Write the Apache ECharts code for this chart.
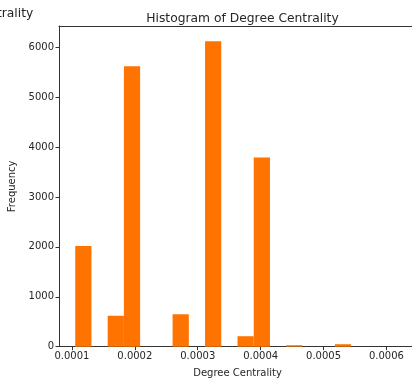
<!DOCTYPE html>
<html>
<head>
<meta charset="utf-8">
<script src="https://cdn.jsdelivr.net/npm/echarts@6/dist/echarts.min.js"></script>
<style>
  html, body { margin: 0; padding: 0; background: #fff; overflow: hidden; }
  #chart { width: 430px; height: 381px; }
</style>
</head>
<body>
<div id="chart"></div>
<script>
// histogram bins (regular width)
var binStart = 0.0001052
var binWidth = 0.0000258
var counts = [2020, 0, 620, 5620, 0, 0, 650, 0, 6120, 0, 210, 3790, 0, 30, 0, 0, 50, 0, 0, 0]
var xTicks = [0.0001, 0.0002, 0.0003, 0.0004, 0.0005, 0.0006]
var yTicks = [0, 1000, 2000, 3000, 4000, 5000, 6000]

var barColor = '#ff7400'
var textColor = '#262626'
var axisColor = '#333'
var font = 'DejaVu Sans'

var bins = counts.map(function (c, i) {
    var x0 = binStart + i * binWidth
    return [x0, x0 + binWidth, c]
})

var myChart = echarts.init(document.getElementById('chart'))
var option = {
    animation: false,
    backgroundColor: '#fff',
    title: {
        text: 'Histogram of Degree Centrality',
        left: 237.5,
        textAlign: 'center',
        top: 8,
        textStyle: { fontFamily: font, fontSize: 12.3, fontWeight: 'normal', color: textColor }
    },
    // neighbouring subplot title, cut by the crop
    graphic: [{
        type: 'text',
        left: -27,
        top: 8,
        style: { text: 'Centrality', font: '12.3px "DejaVu Sans"', fill: textColor }
    }],
    grid: {
        left: 59,
        width: 357,
        top: 26,
        height: 320.7,
        outerBoundsMode: 'none',
        containLabel: false
    },
    xAxis: [{
        type: 'value',
        min: 0.0000794,
        max: 0.000647,
        name: 'Degree Centrality',
        nameLocation: 'middle',
        nameGap: 22,
        nameTextStyle: { fontFamily: font, fontSize: 10, color: textColor },
        axisLine: { show: true, onZero: false, lineStyle: { color: axisColor } },
        axisTick: { show: true, length: 3.5, customValues: xTicks, lineStyle: { color: axisColor } },
        axisLabel: {
            customValues: xTicks,
            margin: 5,
            fontFamily: font,
            fontSize: 10,
            color: textColor,
            formatter: function (v) { return v.toFixed(4) }
        },
        splitLine: { show: false }
    }, {
        // top spine only
        type: 'value',
        position: 'top',
        min: 0.0000794,
        max: 0.000647,
        axisLine: { show: true, onZero: false, lineStyle: { color: axisColor } },
        axisTick: { show: false },
        axisLabel: { show: false },
        splitLine: { show: false }
    }],
    yAxis: {
        type: 'value',
        position: 'left',
        min: 0,
        max: 6426,
        name: 'Frequency',
        nameLocation: 'middle',
        nameGap: 35,
        nameTextStyle: { fontFamily: font, fontSize: 10, color: textColor },
        axisLine: { show: true, lineStyle: { color: axisColor } },
        axisTick: { show: true, length: 3.5, customValues: yTicks, lineStyle: { color: axisColor } },
        axisLabel: {
            customValues: yTicks,
            margin: 5,
            fontFamily: font,
            fontSize: 10,
            color: textColor,
            formatter: function (v) { return String(v) }
        },
        splitLine: { show: false }
    },
    series: [{
        type: 'custom',
        data: bins,
        encode: { x: [0, 1], y: 2 },
        renderItem: function (params, api) {
            var p0 = api.coord([api.value(0), 0])
            var p1 = api.coord([api.value(1), api.value(2)])
            return {
                type: 'rect',
                shape: { x: p0[0], y: p1[1], width: p1[0] - p0[0], height: p0[1] - p1[1] },
                style: { fill: barColor }
            }
        }
    }]
}
myChart.setOption(option)
</script>
</body>
</html>
